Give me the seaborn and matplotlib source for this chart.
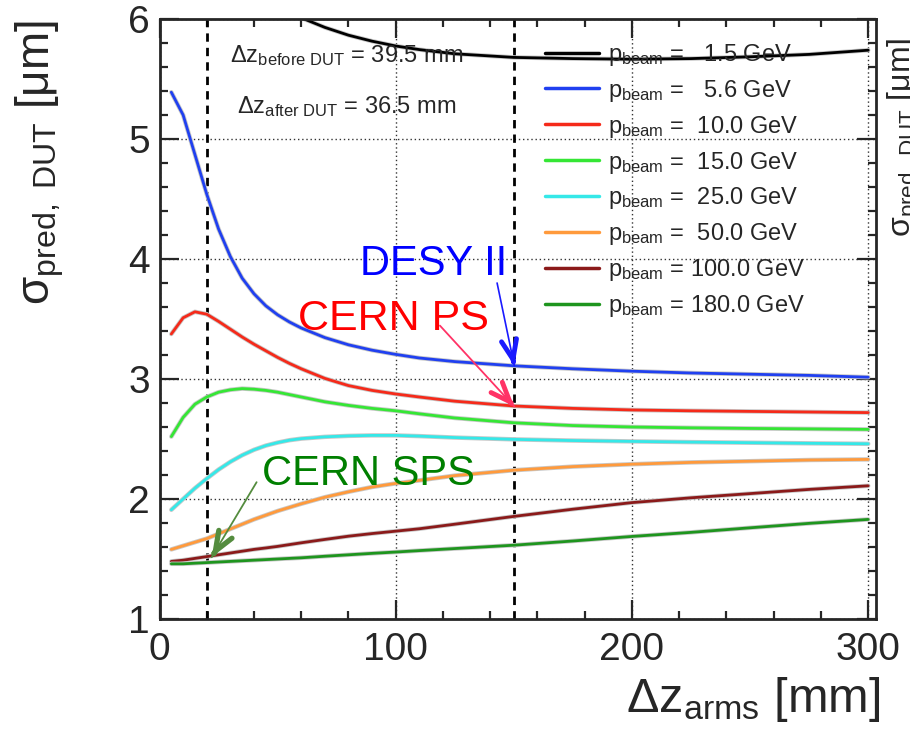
import numpy as np
import pandas as pd
import seaborn as sns
import matplotlib.pyplot as plt
import matplotlib.patheffects as pe

# arm length between the telescope planes [mm]
dz_arms = [5, 10, 15, 20, 25, 30, 35, 40, 45, 50, 55, 60, 70, 80, 90, 100, 110, 125,
           150, 175, 200, 225, 250, 275, 300]

# predicted resolution at the DUT [um], one list per beam momentum
sigma_1p5 = [None, None, None, None, None, None, None, None, 6.16, 6.10, 6.05, 6.01, 5.93, 5.865,
             5.815, 5.775, 5.745, 5.71, 5.68, 5.67, 5.665, 5.67, 5.685, 5.705, 5.74]
sigma_5p6 = [5.39, 5.20, 4.87, 4.54, 4.25, 4.02, 3.84, 3.71, 3.61, 3.535, 3.475, 3.425, 3.345,
             3.285, 3.24, 3.205, 3.175, 3.145, 3.11, 3.085, 3.065, 3.05, 3.04, 3.03, 3.015]
sigma_10 = [3.375, 3.51, 3.56, 3.54, 3.48, 3.415, 3.35, 3.29, 3.235, 3.18, 3.13, 3.085, 3.005,
            2.945, 2.905, 2.875, 2.85, 2.815, 2.775, 2.755, 2.742, 2.735, 2.73, 2.725, 2.72]
sigma_15 = [2.52, 2.68, 2.79, 2.85, 2.89, 2.91, 2.92, 2.915, 2.905, 2.89, 2.87, 2.85, 2.81,
            2.78, 2.755, 2.735, 2.71, 2.675, 2.635, 2.612, 2.60, 2.593, 2.588, 2.584, 2.58]
sigma_25 = [1.91, 2.00, 2.09, 2.17, 2.245, 2.31, 2.365, 2.41, 2.445, 2.47, 2.49, 2.503, 2.518,
            2.526, 2.53, 2.53, 2.524, 2.512, 2.497, 2.487, 2.48, 2.474, 2.469, 2.464, 2.46]
sigma_50 = [1.58, 1.61, 1.64, 1.67, 1.71, 1.75, 1.79, 1.83, 1.865, 1.90, 1.93, 1.96, 2.015,
            2.06, 2.10, 2.13, 2.155, 2.195, 2.24, 2.27, 2.29, 2.305, 2.315, 2.325, 2.33]
sigma_100 = [1.48, 1.49, 1.505, 1.52, 1.535, 1.55, 1.565, 1.58, 1.592, 1.605, 1.62, 1.635, 1.663,
             1.69, 1.712, 1.732, 1.752, 1.79, 1.855, 1.915, 1.97, 2.01, 2.045, 2.08, 2.11]
sigma_180 = [1.46, 1.46, 1.465, 1.47, 1.475, 1.48, 1.485, 1.49, 1.495, 1.50, 1.505, 1.51, 1.523,
             1.535, 1.547, 1.558, 1.57, 1.587, 1.615, 1.65, 1.688, 1.722, 1.76, 1.797, 1.83]

momenta = ["1.5", "5.6", "10.0", "15.0", "25.0", "50.0", "100.0", "180.0"]
all_sigma = [sigma_1p5, sigma_5p6, sigma_10, sigma_15, sigma_25, sigma_50, sigma_100, sigma_180]
colors = ["#000000", "#2040f0", "#f52a1a", "#35e635", "#35e8e8", "#ff9a3c", "#8b1a1a", "#1e951e"]

# DUT positions marked with dashed lines
dz_marks = [20, 150]

rows = []
for p, s in zip(momenta, all_sigma):
    label = r"$p_{\rm beam}$ =" + " " * (6 - len(p)) + p + " GeV"
    for x, y in zip(dz_arms, s):
        if y is not None:
            rows.append({"dz": x, "sigma": y, "p": label})
df = pd.DataFrame(rows)
labels = list(dict.fromkeys(df["p"]))
palette = dict(zip(labels, colors))

sns.set_style("ticks")
plt.rcParams["font.family"] = ["Liberation Sans", "DejaVu Sans"]
plt.rcParams["mathtext.fontset"] = "custom"
plt.rcParams["mathtext.rm"] = "Liberation Sans"
plt.rcParams["mathtext.it"] = "Liberation Sans"
plt.rcParams["mathtext.sf"] = "Liberation Sans"
plt.rcParams["mathtext.default"] = "regular"

fig = plt.figure(figsize=(9.1, 7.34), dpi=100)
ax = fig.add_axes([159.5 / 910, 1 - 619 / 734, 717 / 910, 600 / 734])

sns.lineplot(data=df, x="dz", y="sigma", hue="p", hue_order=labels, palette=palette,
             linewidth=2.0, estimator=None, sort=False, ax=ax)
for line in ax.get_lines():
    line.set_path_effects([pe.Stroke(linewidth=3.2, foreground="#c8c8c8"), pe.Normal()])

for z in dz_marks:
    ax.axvline(z, color="black", ls=(0, (3, 2.2)), lw=2.0, zorder=1)

ax.set_xlim(0, 303.5)
ax.set_ylim(1, 6)
ax.set_xticks([0, 100, 200, 300])
ax.set_yticks([1, 2, 3, 4, 5, 6])
ax.set_xticks(np.arange(0, 301, 20), minor=True)
ax.set_yticks(np.arange(1, 6.01, 0.2), minor=True)
ax.grid(True, which="major", ls=(0, (1, 2)), color="#333333", lw=1.0)
ax.tick_params(which="both", direction="in", top=True, right=True, width=1.6, labelsize=28)
ax.tick_params(which="major", length=13.5)
ax.tick_params(which="minor", length=6)
ax.tick_params(axis="y", pad=7)
ax.tick_params(axis="x", pad=9)
for sp in ax.spines.values():
    sp.set_linewidth(2.0)
ax.set_xlabel("")
ax.set_ylabel("")

handles, hl = ax.get_legend_handles_labels()
leg = ax.legend(handles, hl, loc="upper left", bbox_to_anchor=(0.537, 0.962), frameon=False,
                fontsize=17, handlelength=2.3, handletextpad=0.4, labelspacing=0.42,
                borderaxespad=0, borderpad=0)
for h in leg.get_lines():
    h.set_linewidth(2.5)
    h.set_path_effects([])

ax.text(30, 5.64, r"$\Delta z_{\rm before\ DUT}$ = 39.5 mm", fontsize=17, va="baseline")
ax.text(32.8, 5.22, r"$\Delta z_{\rm after\ DUT}$ = 36.5 mm", fontsize=17, va="baseline")

ax.text(84.7, 3.87, "DESY II", color="#0000ff", fontsize=30, va="baseline")
ax.text(58.6, 3.41, "CERN PS", color="#ff0000", fontsize=31, va="baseline")
ax.text(43.4, 2.117, "CERN SPS", color="#007f00", fontsize=30, va="baseline")


def hand_arrow(start, tip, color, lw_shaft, lw_head):
    ax.annotate("", xy=tip, xytext=start,
                arrowprops=dict(arrowstyle="-", color=color, lw=lw_shaft, shrinkA=0, shrinkB=0))
    near = (tip[0] + 0.05 * (start[0] - tip[0]), tip[1] + 0.05 * (start[1] - tip[1]))
    ax.annotate("", xy=tip, xytext=near,
                arrowprops=dict(arrowstyle="->,head_length=1.4,head_width=0.55", color=color,
                                lw=lw_head, shrinkA=0, shrinkB=0))


hand_arrow((142.9, 3.80), (150.2, 3.11), "#1a1aff", 1.2, 3.5)
hand_arrow((118.7, 3.445), (150.2, 2.77), "#ff3366", 1.3, 3.5)
hand_arrow((41.1, 2.14), (22.1, 1.515), "#548c3e", 1.3, 3.8)

ylab = r"$\sigma_{\rm pred,\ DUT}$ [$\mu$m]"
fig.text(13 / 910, 1 - 20 / 734, ylab, rotation=90, ha="left", va="top", fontsize=33)
fig.text(886 / 910, 1 - 38 / 734, ylab, rotation=90, ha="left", va="top", fontsize=23)
fig.text(880 / 910, 1 - 712 / 734, r"$\Delta z_{\rm arms}$ [mm]", ha="right", va="baseline",
         fontsize=35)

fig.savefig("out.png", dpi=100)
